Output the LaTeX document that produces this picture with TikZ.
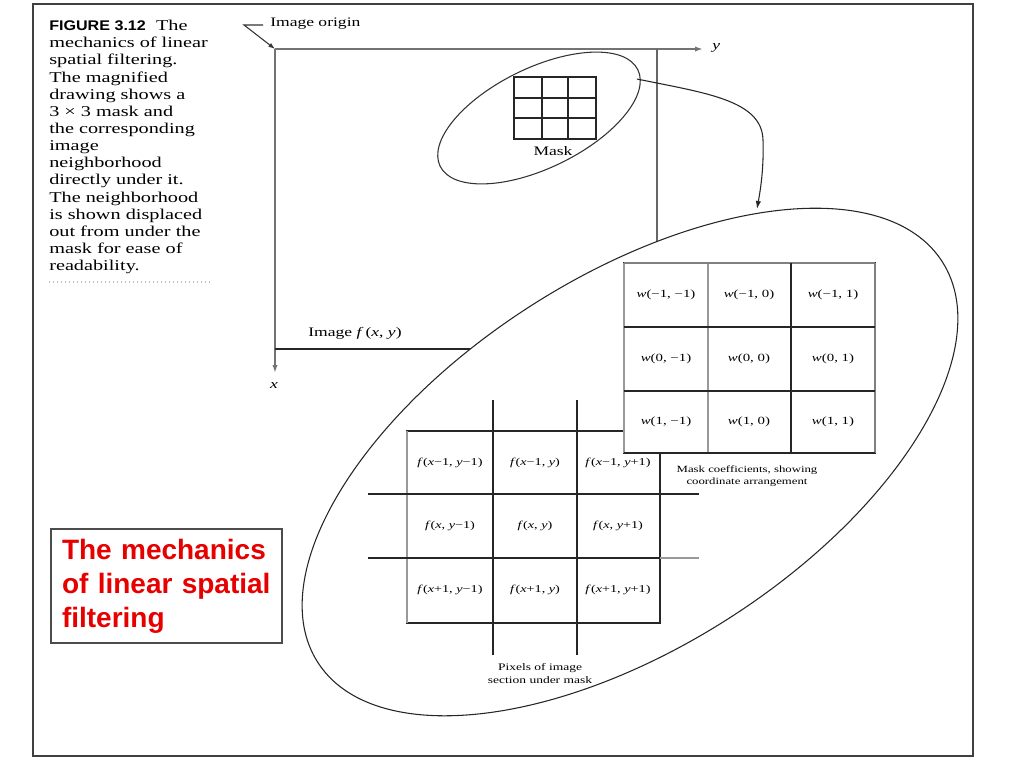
\documentclass[tikz,border=0pt]{standalone}
\usepackage{fontspec}
\setmainfont{Liberation Serif}[FakeStretch=1.35]
\newfontfamily\figfont{Liberation Sans}[FakeStretch=1.15]
\newfontfamily\slidefont{Liberation Sans}
\usetikzlibrary{shapes.geometric,arrows.meta}
\definecolor{slidered}{RGB}{230,0,0}
\newcommand\fsz[2]{\fontsize{#1}{#2}\selectfont}
\tikzset{
  frame/.style={draw=black!75, line width=0.8pt},
  axisline/.style={draw=black!55, line width=1.4pt},
  edge/.style={draw=black!85, line width=1pt},
  gridline/.style={draw=black!85, line width=0.9pt},
  grayline/.style={draw=black!40, line width=1.6pt},
  tip/.style={-{Latex[length=6pt,width=4pt]}},
  cell/.style={inner sep=0, font=\fsz{8.25}{10}},
  pcell/.style={inner sep=0, font=\fsz{7.9}{10}},
  small/.style={inner sep=0, font=\fsz{7.1}{9}, align=center},
  lab/.style={inner sep=0, font=\fsz{9.75}{12}},
}
\begin{document}
\begin{tikzpicture}[x=0.75pt, y=-0.75pt]
\useasboundingbox (0,0) rectangle (1024,768);
% page frame
\draw[frame] (33,4) rectangle (973,756);

% caption
\node[anchor=north west, align=left, inner sep=0, font=\fsz{11.25}{12.85}] (cap) at (49,20)
 {{\figfont\bfseries\fsz{10.5}{12.85}FIGURE 3.12}\ \ The\\
  mechanics of linear\\
  spatial filtering.\\
  The magnified\\
  drawing shows a\\
  3 × 3 mask and\\
  the corresponding\\
  image\\
  neighborhood\\
  directly under it.\\
  The neighborhood\\
  is shown displaced\\
  out from under the\\
  mask for ease of\\
  readability.};
\draw[black!25, line width=1pt, dotted] (49,282) -- (212,282);

% axes and image
\coordinate (O) at (275,49);
\coordinate (yend) at (703,49);
\coordinate (xend) at (275,373);
\draw[axisline, tip] (O) -- (yend);
\draw[axisline, tip] (O) -- (xend);
\node[lab, font=\fsz{9.75}{12}\itshape, anchor=west] (ylab) at (712,48) {y};
\node[lab, font=\fsz{9.75}{12}\itshape] (xlab) at (274,386) {x};
\draw[draw=black!60, line width=1.3pt] (657,49) -- (657,330);
\draw[edge, line width=1.2pt] (275,349) -- (560,349);
\node[lab, anchor=west] (imglab) at (308,333) {Image \textit{f}\,(\textit{x}, \textit{y})};

% image origin pointer
\node[lab, anchor=west] (orilab) at (270,24) {Image origin};
\coordinate (io1) at (263,25);
\coordinate (io2) at (244,25);
\draw[draw=black!80, line width=0.8pt, -{Latex[length=5pt,width=3.5pt]}] (io1) -- (io2) -- (O);

% small mask ellipse with mask
\node[ellipse, draw=black!80, line width=0.8pt, minimum width=165pt, minimum height=75pt,
      inner sep=0, rotate=26] (mke) at (539,118) {};
\draw[gridline] (514,77) rectangle (596,139);
\draw[gridline] (542,77) -- (542,139) (568,77) -- (568,139)
                (514,98) -- (596,98) (514,118) -- (596,118);
\node[lab] (masklab) at (553,151) {Mask};

% big magnified ellipse
\node[ellipse, draw=black!85, fill=white, line width=0.8pt, minimum width=556.5pt,
      minimum height=277.5pt, inner sep=0, rotate=32.7] (big) at (630,462) {};

% connector
\coordinate (cs) at (637,79);
\coordinate (ce) at (757,209);
\draw[draw=black!85, line width=0.8pt, -{Latex[length=6pt,width=4pt]}]
  (cs) .. controls (705,93) and (762,100) .. (763,140)
       .. controls (764,170) and (760,192) .. (ce);

% pixel grid
\draw[gridline] (407,431) rectangle (660,623);
\draw[grayline] (407,431) -- (407,623);
\draw[gridline] (493,400) -- (493,655) (577,400) -- (577,655);
\draw[gridline] (368,494) -- (699,494);
\draw[gridline] (368,558) -- (660,558);
\draw[grayline, line width=1.2pt] (660,558) -- (699,558);
\node[pcell] (f11) at (450,463) {\textit{f}(\textit{x}−1, \textit{y}−1)};
\node[pcell] (f12) at (535,463) {\textit{f}(\textit{x}−1, \textit{y})};
\node[pcell] (f13) at (618,463) {\textit{f}(\textit{x}−1, \textit{y}+1)};
\node[pcell] (f21) at (450,526) {\textit{f}(\textit{x}, \textit{y}−1)};
\node[pcell] (f22) at (535,526) {\textit{f}(\textit{x}, \textit{y})};
\node[pcell] (f23) at (618,526) {\textit{f}(\textit{x}, \textit{y}+1)};
\node[pcell] (f31) at (450,590) {\textit{f}(\textit{x}+1, \textit{y}−1)};
\node[pcell] (f32) at (535,590) {\textit{f}(\textit{x}+1, \textit{y})};
\node[pcell] (f33) at (618,590) {\textit{f}(\textit{x}+1, \textit{y}+1)};
\node[small, font=\fsz{7.5}{9.75}] (pixlab) at (540,674) {Pixels of image\\section under mask};

% mask coefficient grid
\fill[white] (624,263) rectangle (875,453);
\draw[gridline] (624,263) rectangle (875,453);
\draw[grayline] (624,263) -- (624,453) (708,263) -- (708,453);
\draw[draw=black!50, line width=1pt] (624,263) -- (875,263) (875,263) -- (875,453);
\draw[gridline] (791,263) -- (791,453) (624,327) -- (875,327) (624,391) -- (875,391);
\draw[edge, line width=1.3pt] (624,453) -- (875,453);
\node[cell] (w11) at (666,295) {\textit{w}(−1, −1)};
\node[cell] (w12) at (749,295) {\textit{w}(−1, 0)};
\node[cell] (w13) at (833,295) {\textit{w}(−1, 1)};
\node[cell] (w21) at (666,359) {\textit{w}(0, −1)};
\node[cell] (w22) at (749,359) {\textit{w}(0, 0)};
\node[cell] (w23) at (833,359) {\textit{w}(0, 1)};
\node[cell] (w31) at (666,422) {\textit{w}(1, −1)};
\node[cell] (w32) at (749,422) {\textit{w}(1, 0)};
\node[cell] (w33) at (833,422) {\textit{w}(1, 1)};
\node[small] (coeflab) at (747,476) {Mask coefficients, showing\\coordinate arrangement};

% red slide label
\node[draw=black!70, line width=0.8pt, minimum width=173.25pt, minimum height=85.5pt,
      text width=156.75pt, inner xsep=8.25pt, align=left, text=slidered,
      font=\slidefont\bfseries\fsz{21}{25.5}] (redbox) at (166.5,586)
 {The mechanics\\of linear spatial\\filtering};
\end{tikzpicture}
\end{document}
